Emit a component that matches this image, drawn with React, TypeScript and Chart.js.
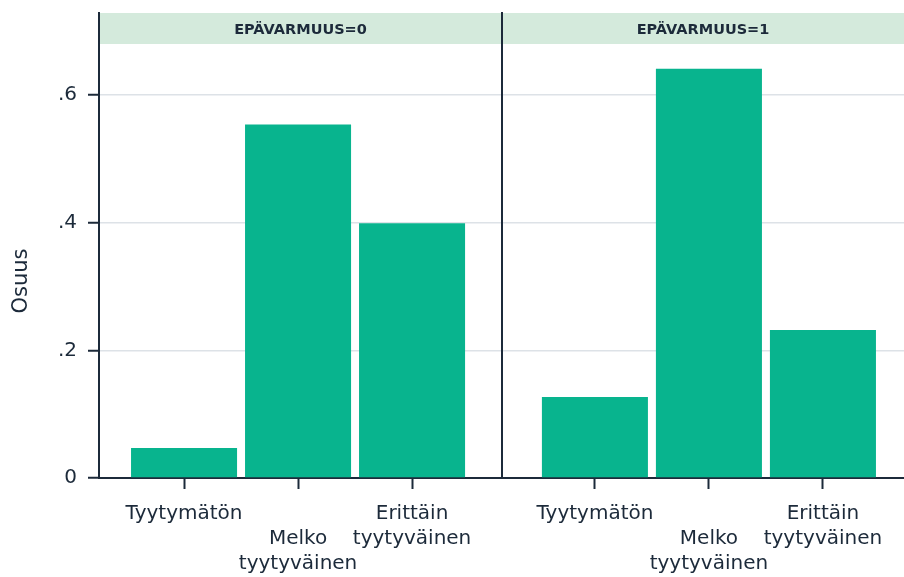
import React, { useEffect, useRef } from "react";
import { Chart, registerables } from "chart.js";

Chart.register(...registerables);

// ---- data ----
const categoryPositions = [1, 2, 3];
const categoryLabels: string[][] = [
  ["Tyytymätön"],
  ["", "Melko", "tyytyväinen"],
  ["Erittäin", "tyytyväinen"],
];
const panelTitles = ["EPÄVARMUUS=0", "EPÄVARMUUS=1"];
const sharesPanel0 = [0.047, 0.554, 0.399];
const sharesPanel1 = [0.127, 0.641, 0.232];
const yTickValues = [0, 0.2, 0.4, 0.6];
const yTickLabels = ["0", ".2", ".4", ".6"];
const yAxisTitle = "Osuus";

// ---- style ----
const FONT = "'DejaVu Sans', sans-serif";
const BAR = "#08b48e";
const INK = "#1c2a3a";
const GRID = "#dde2e7";
const STRIP = "#d4eadc";
const W = 904;
const H = 577;

function makeChart(
  canvas: HTMLCanvasElement,
  values: number[],
  title: string,
  withYAxis: boolean,
  xMin: number,
  xMax: number
) {
  const stripPlugin = {
    id: "strip",
    beforeDraw(chart: any) {
      const { ctx, chartArea } = chart;
      ctx.save();
      ctx.fillStyle = STRIP;
      ctx.fillRect(chartArea.left, chartArea.top, chartArea.right - chartArea.left, 31);
      ctx.fillStyle = INK;
      ctx.font = `bold 14.5px ${FONT}`;
      ctx.textAlign = "center";
      ctx.textBaseline = "alphabetic";
      ctx.fillText(title, (chartArea.left + chartArea.right) / 2, chartArea.top + 21.3);
      ctx.restore();
    },
    afterDraw(chart: any) {
      if (!withYAxis) return;
      const { ctx } = chart;
      ctx.save();
      ctx.translate(27, 281);
      ctx.rotate(-Math.PI / 2);
      ctx.fillStyle = INK;
      ctx.font = `21px ${FONT}`;
      ctx.textAlign = "center";
      ctx.textBaseline = "alphabetic";
      ctx.fillText(yAxisTitle, 0, 0);
      ctx.restore();
    },
  };

  return new Chart(canvas, {
    type: "bar",
    data: {
      datasets: [
        {
          data: categoryPositions.map((x, i) => ({ x, y: values[i] })),
          backgroundColor: BAR,
          borderWidth: 0,
          barPercentage: 0.93,
          categoryPercentage: 1,
        },
      ],
    },
    options: {
      responsive: false,
      animation: false,
      devicePixelRatio: 1,
      layout: { padding: { top: 13, right: 0, left: 0, bottom: 0 } },
      plugins: { legend: { display: false }, tooltip: { enabled: false } },
      scales: {
        x: {
          type: "linear",
          offset: false,
          min: xMin,
          max: xMax,
          afterBuildTicks: (s: any) => {
            s.ticks = categoryPositions.map((v) => ({ value: v }));
          },
          afterFit: (s: any) => {
            s.height = 99;
            s.paddingLeft = 0;
            s.paddingRight = 0;
          },
          grid: {
            offset: false,
            drawOnChartArea: false,
            drawTicks: true,
            tickLength: 11,
            tickColor: INK,
            tickWidth: 2,
          },
          border: { display: true, color: INK, width: 2 },
          ticks: {
            autoSkip: false,
            maxRotation: 0,
            padding: 12,
            color: INK,
            font: { family: FONT, size: 20, lineHeight: 1.25 },
            callback: (_v: any, i: number) => categoryLabels[i],
          },
        },
        y: {
          min: 0,
          max: 0.7285,
          afterBuildTicks: (s: any) => {
            s.ticks = yTickValues.map((v) => ({ value: v }));
          },
          afterFit: (s: any) => {
            s.width = withYAxis ? 99 : 12;
            s.paddingTop = 0;
            s.paddingBottom = 0;
          },
          grid: {
            color: GRID,
            lineWidth: 1.5,
            drawTicks: withYAxis,
            tickLength: 11,
            tickColor: INK,
            tickWidth: 2,
          },
          border: { display: true, color: INK, width: 2 },
          ticks: {
            display: withYAxis,
            padding: 11,
            color: INK,
            font: { family: FONT, size: 20 },
            callback: (_v: any, i: number) => yTickLabels[i],
          },
        },
      },
    },
    plugins: [stripPlugin],
  } as any);
}

export default function App() {
  const leftRef = useRef<HTMLCanvasElement>(null);
  const rightRef = useRef<HTMLCanvasElement>(null);

  useEffect(() => {
    const a = makeChart(leftRef.current!, sharesPanel0, panelTitles[0], true, 0.254, 3.789);
    const b = makeChart(rightRef.current!, sharesPanel1, panelTitles[1], false, 0.185, 3.711);
    return () => {
      a.destroy();
      b.destroy();
    };
  }, []);

  return (
    <div style={{ position: "fixed", left: 0, top: 0, width: W, height: H, background: "#fff" }}>
      <canvas
        ref={leftRef}
        width={502}
        height={H}
        style={{ position: "absolute", left: 0, top: 0, width: 502, height: H }}
      />
      <canvas
        ref={rightRef}
        width={414}
        height={H}
        style={{ position: "absolute", left: 490, top: 0, width: 414, height: H }}
      />
    </div>
  );
}
